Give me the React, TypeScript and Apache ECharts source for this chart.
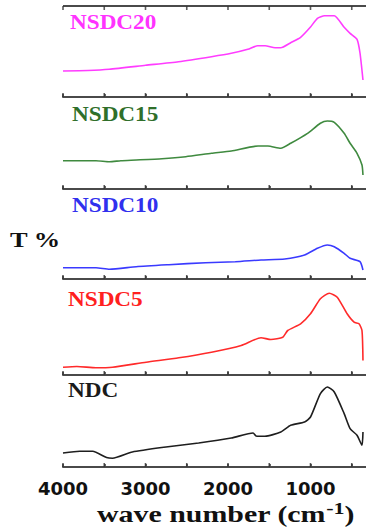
import React, { useEffect, useRef } from "react";
import * as echarts from "echarts";

// Wavenumber (cm-1) and transmittance (arbitrary, offset within each panel)
const nsdc20Wave = [4000, 3700, 3440, 3000, 2600, 2200, 1960, 1760, 1640, 1550, 1430, 1360, 1240, 1120, 1000, 916, 830, 712, 592, 520, 436, 400, 364];
const nsdc20T = [26, 26.5, 27.7, 31.7, 35.3, 40.3, 43.7, 47.7, 51.3, 51.3, 49.3, 49.3, 54.3, 59.7, 70, 78.7, 81.3, 81.3, 69.7, 63.7, 57.7, 44, 17];

const nsdc15Wave = [4000, 3600, 3436, 3300, 3112, 2800, 2512, 2200, 1960, 1636, 1516, 1360, 1240, 1036, 880, 796, 712, 592, 520, 436, 376, 364];
const nsdc15T = [28.3, 28.3, 27.3, 28.3, 29, 30.3, 32.3, 35.7, 38, 43, 43, 40.7, 45.7, 55.7, 65.7, 68, 66.7, 55.7, 45.7, 35.7, 24, 14];

const nsdc10Wave = [4000, 3600, 3436, 3112, 2716, 2272, 1912, 1600, 1312, 1072, 916, 796, 712, 592, 520, 400, 364];
const nsdc10T = [11.3, 11.3, 9.7, 12.3, 14.3, 16.3, 17.3, 19, 20, 24, 30.7, 34, 32.3, 25.7, 20.7, 17.3, 9];

const nsdc5Wave = [4000, 3832, 3600, 3400, 2992, 2596, 2200, 1840, 1600, 1480, 1336, 1276, 1120, 1000, 880, 772, 676, 556, 472, 412, 376, 364];
const nsdc5T = [7.8, 8.5, 7.2, 7.8, 12.8, 17.2, 22.8, 29.5, 37.2, 35.5, 37.8, 44.5, 51.2, 61.2, 76.2, 81.8, 77.8, 61.2, 52.8, 51.2, 44.5, 14.5];

const ndcWave = [4000, 3796, 3640, 3472, 3400, 3160, 2752, 2356, 1960, 1696, 1660, 1552, 1360, 1240, 1072, 1000, 880, 796, 712, 592, 520, 436, 376, 364];
const ndcT = [14, 15.7, 15.7, 9.4, 8.7, 15, 20, 24, 29, 34, 31, 30.7, 35, 41.7, 45, 50, 73.4, 80, 75, 53.4, 38.4, 31.7, 21.7, 35];

const sampleNames = ["NSDC20", "NSDC15", "NSDC10", "NSDC5", "NDC"];
const lineColors = ["#ff3cff", "#3f8a3f", "#3a3aff", "#ff2a2a", "#1e1e1e"];
const labelColors = ["#ff33ff", "#2f6f2a", "#3030ee", "#ff2020", "#1a1a1a"];
const axisMin = 0;
const axisMax = 4000;
const tickStep = 500;
const labelStep = 1000;
const tickValues = [4000, 3500, 3000, 2500, 2000, 1500, 1000, 500];

const waves = [nsdc20Wave, nsdc15Wave, nsdc10Wave, nsdc5Wave, ndcWave];
const trans = [nsdc20T, nsdc15T, nsdc10T, nsdc5T, ndcT];

export default function App() {
  const ref = useRef<HTMLDivElement>(null);
  useEffect(() => {
    if (!ref.current) return;
    const chart = echarts.init(ref.current, null, { renderer: "svg" });
    const panels = [
      { top: 6, height: 91 },
      { top: 97, height: 92 },
      { top: 189, height: 90 },
      { top: 279, height: 96 },
      { top: 375, height: 92 },
    ];
    const labelPos = [
      { x: 70, y: 23 },
      { x: 72, y: 115 },
      { x: 72, y: 206 },
      { x: 68, y: 300 },
      { x: 68, y: 391 },
    ];
    const grids = panels.map((p) => ({ left: 63, width: 333, top: p.top, height: p.height }));
    const xAxes: any[] = panels.map((p, i) => ({
      type: "value",
      gridIndex: i,
      min: axisMin,
      max: axisMax,
      interval: tickStep,
      inverse: true,
      axisLine: { show: true, onZero: false, lineStyle: { color: "#4a4a4a", width: 2 } },
      axisTick: { show: true, inside: true, length: 3, lineStyle: { color: "#333", width: 1.5 } },
      axisLabel: {
        show: true,
        formatter: (v: number) => (i === 4 && v > 0 && v % labelStep === 0 ? String(v) : ""),
        color: "#111",
        fontFamily: "DejaVu Sans",
        fontWeight: "bold",
        fontSize: 18,
        margin: 12,
      },
      splitLine: { show: false },
    }));
    const yAxes = panels.map((p, i) => ({
      type: "value",
      gridIndex: i,
      min: 0,
      max: p.height,
      show: false,
    }));
    const series: any[] = sampleNames.map((name, i) => ({
      type: "line",
      name,
      xAxisIndex: i,
      yAxisIndex: i,
      data: waves[i].map((w, j) => [w, trans[i][j]]),
      showSymbol: false,
      smooth: 0.2,
      lineStyle: { color: lineColors[i], width: 1.6 },
    }));
    // Frame: a baseline per panel and a top line on the first, with inward ticks
    const frames = [
      ...panels.map((p, i) => ({ idx: i, yv: 0, dir: -1 })),
      { idx: 0, yv: panels[0].height, dir: 1 },
    ];
    frames.forEach((f) => {
      series.push({
        type: "line",
        xAxisIndex: f.idx,
        yAxisIndex: f.idx,
        data: [
          [axisMax, f.yv],
          [axisMin, f.yv],
        ],
        showSymbol: false,
        silent: true,
        clip: false,
        z: 3,
        lineStyle: { color: "#4a4a4a", width: 2 },
      });
      series.push({
        type: "scatter",
        xAxisIndex: f.idx,
        yAxisIndex: f.idx,
        data: tickValues.map((v) => [v, f.yv]),
        symbol: "rect",
        symbolSize: [1.6, 4],
        symbolOffset: [0, f.dir * 2],
        silent: true,
        clip: false,
        z: 3,
        itemStyle: { color: "#333" },
      });
    });
    const graphic: any[] = sampleNames.map((name, i) => ({
      type: "text",
      x: labelPos[i].x,
      y: labelPos[i].y,
      scaleX: 1.16,
      style: {
        text: name,
        fill: labelColors[i],
        fontFamily: "Liberation Serif",
        fontWeight: "bold",
        fontSize: 20,
        verticalAlign: "middle",
        align: "left",
      },
    }));
    graphic.push({
      type: "text",
      x: 10,
      y: 239,
      scaleX: 1.2,
      style: {
        text: "T %",
        fill: "#111",
        fontFamily: "Liberation Serif",
        fontWeight: "bold",
        fontSize: 22,
        verticalAlign: "middle",
        align: "left",
      },
    });
    graphic.push({
      type: "text",
      x: 97,
      y: 514,
      scaleX: 1.3,
      style: {
        text: "{a|wave number (cm}{b|-1}{a|)}",
        fill: "#111",
        verticalAlign: "middle",
        align: "left",
        rich: {
          a: { fontFamily: "Liberation Serif", fontWeight: "bold", fontSize: 23, fill: "#111" },
          b: { fontFamily: "Liberation Serif", fontWeight: "bold", fontSize: 17, fill: "#111", padding: [0, 0, 12, 0] },
        },
      },
    });
    chart.setOption({
      animation: false,
      grid: grids,
      xAxis: xAxes,
      yAxis: yAxes,
      series,
      graphic,
    });
    return () => chart.dispose();
  }, []);
  return (
    <div
      ref={ref}
      style={{ position: "fixed", left: 0, top: 0, width: 396, height: 530, background: "#fff" }}
    />
  );
}
